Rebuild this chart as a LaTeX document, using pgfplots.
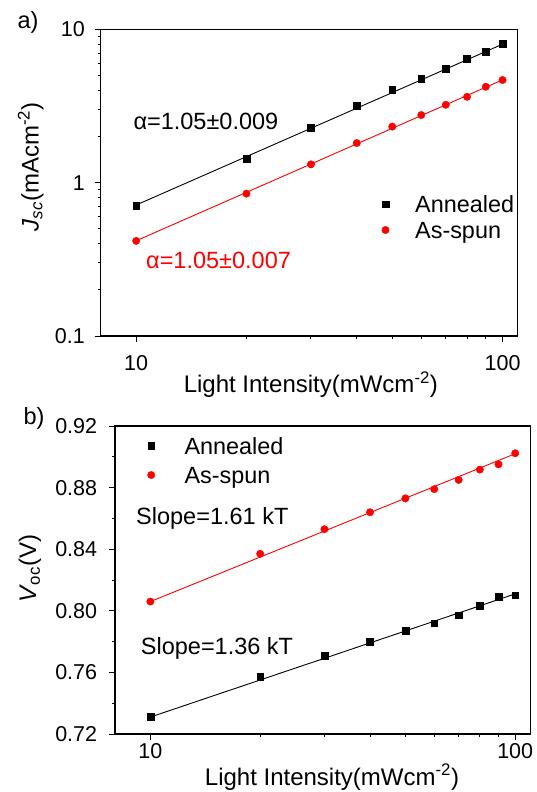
\documentclass[border=0pt]{standalone}
\usepackage{fontspec}
\setmainfont{Liberation Sans}
\usepackage{pgfplots}
\pgfplotsset{compat=1.18}

\pgfplotsset{
  common/.style={
    scale only axis,
    axis line style={line width=1.1pt},
    tick align=outside,
    xtick pos=left, ytick pos=left,
    major tick length=6pt, minor tick length=3pt,
    every tick/.style={line width=1pt, black},
    tick label style={font=\fontsize{21.5}{25}\selectfont, inner sep=0pt},
    label style={font=\fontsize{24}{28}\selectfont, inner sep=0pt},
    /pgf/number format/assume math mode=true,
    xmin=8, xmax=110,
    xtick={10,100}, xticklabels={10,100},
    legend cell align=left,
    legend style={draw=none, fill=none, inner sep=0pt, column sep=0pt,
      font=\fontsize{23.4}{27}\selectfont,
      nodes={inner sep=0pt, text depth=0pt}},
  },
  anneal/.style={only marks, mark=square*, mark size=3.4pt, black},
  spun/.style={only marks, mark=*, mark size=3.7pt, red},
  fitk/.style={no marks, black, line width=0.9pt, forget plot},
  fitr/.style={no marks, red, line width=0.9pt, forget plot},
}
\tikzset{annot/.style={font=\fontsize{23.5}{27}\selectfont, inner sep=0pt, anchor=base west}}

\begin{document}
\begin{tikzpicture}
\path[use as bounding box] (0pt,0pt) rectangle (536pt,-792pt);

\node[font=\fontsize{23.5}{27}\selectfont, inner sep=0pt] at (28pt,-22pt) {a)};
\node[font=\fontsize{23.5}{27}\selectfont, inner sep=0pt] at (34pt,-418pt) {b)};

% ---------------- panel a ----------------
\begin{axis}[xmode=log, ymode=log, common,
  at={(100.7pt,-336pt)}, anchor=south west,
  width=417pt, height=306.7pt,
  ymin=0.1, ymax=10,
  ytick={0.1,1,10}, yticklabels={0.1,1,10},
  xticklabel style={anchor=north, yshift=-13pt},
  yticklabel style={anchor=east, xshift=-9.7pt},
  xlabel={Light Intensity(mWcm\textsuperscript{-2})},
  ylabel={\textit{J}\textsubscript{\textit{sc}}(mAcm\textsuperscript{-2})},
  xlabel style={at={(axis description cs:0.504,-0.1858)}, anchor=base},
  ylabel style={at={(axis description cs:-0.149,0.551)}, anchor=base, rotate=0},
  legend image code/.code={\path[draw=none,fill=none] (-3.7pt,0pt) -- (29.7pt,0pt); \draw[#1] plot coordinates {(0pt,0pt)};},
  legend style={at={(0.6736,0.4578)}, anchor=north west, row sep=9.2pt},
]
\addplot[fitk] coordinates {(10,0.715) (100,8.0)};
\addplot[fitr] coordinates {(10,0.418) (100,4.68)};
\addplot[anneal] coordinates {
  (10,0.711) (20,1.43) (30,2.28) (40,3.16) (50,4.02)
  (60,4.76) (70,5.55) (80,6.40) (90,7.17) (100,8.05)};
\addlegendentry{Annealed}
\addplot[spun] coordinates {
  (10,0.417) (20,0.848) (30,1.316) (40,1.813) (50,2.32)
  (60,2.76) (70,3.22) (80,3.63) (90,4.22) (100,4.67)};
\addlegendentry{As-spun}
\node[annot, black] at (rel axis cs:0.0782,0.6717) {α=1.05±0.009};
\node[annot, red] at (rel axis cs:0.1086,0.2185) {α=1.05±0.007};
\end{axis}

% ---------------- panel b ----------------
\begin{axis}[xmode=log, common,
  at={(115pt,-734pt)}, anchor=south west,
  width=415.3pt, height=308pt,
  ymin=0.72, ymax=0.92,
  ytick={0.72,0.76,0.80,0.84,0.88,0.92},
  yticklabels={0.72,0.76,0.80,0.84,0.88,0.92},
  minor y tick num=1,
  xticklabel style={anchor=north, yshift=-3pt},
  yticklabel style={anchor=east, xshift=-11.7pt},
  xlabel={Light Intensity(mWcm\textsuperscript{-2})},
  ylabel={\textit{V}\textsubscript{oc}(V)},
  xlabel style={at={(axis description cs:0.5225,-0.1656)}, anchor=base},
  ylabel style={at={(axis description cs:-0.190,0.536)}, anchor=base, rotate=0},
  legend image code/.code={\path[draw=none,fill=none] (-3.7pt,0pt) -- (33.3pt,0pt); \draw[#1] plot coordinates {(0pt,0pt)};},
  legend style={at={(0.0778,0.9633)}, anchor=north west, row sep=12.5pt},
]
\addplot[fitk] coordinates {(10,0.731) (100,0.811)};
\addplot[fitr] coordinates {(10,0.806) (100,0.902)};
\addplot[anneal] coordinates {
  (10,0.7313) (20,0.757) (30,0.7708) (40,0.7802) (50,0.787)
  (60,0.792) (70,0.7972) (80,0.8031) (90,0.8092) (100,0.8101)};
\addlegendentry{Annealed}
\addplot[spun] coordinates {
  (10,0.806) (20,0.837) (30,0.853) (40,0.864) (50,0.873)
  (60,0.879) (70,0.885) (80,0.8917) (90,0.8951) (100,0.9023)};
\addlegendentry{As-spun}
\node[annot, black] at (rel axis cs:0.0506,0.6786) {Slope=1.61 kT};
\node[annot, black] at (rel axis cs:0.0619,0.2597) {Slope=1.36 kT};
\end{axis}
\end{tikzpicture}
\end{document}
